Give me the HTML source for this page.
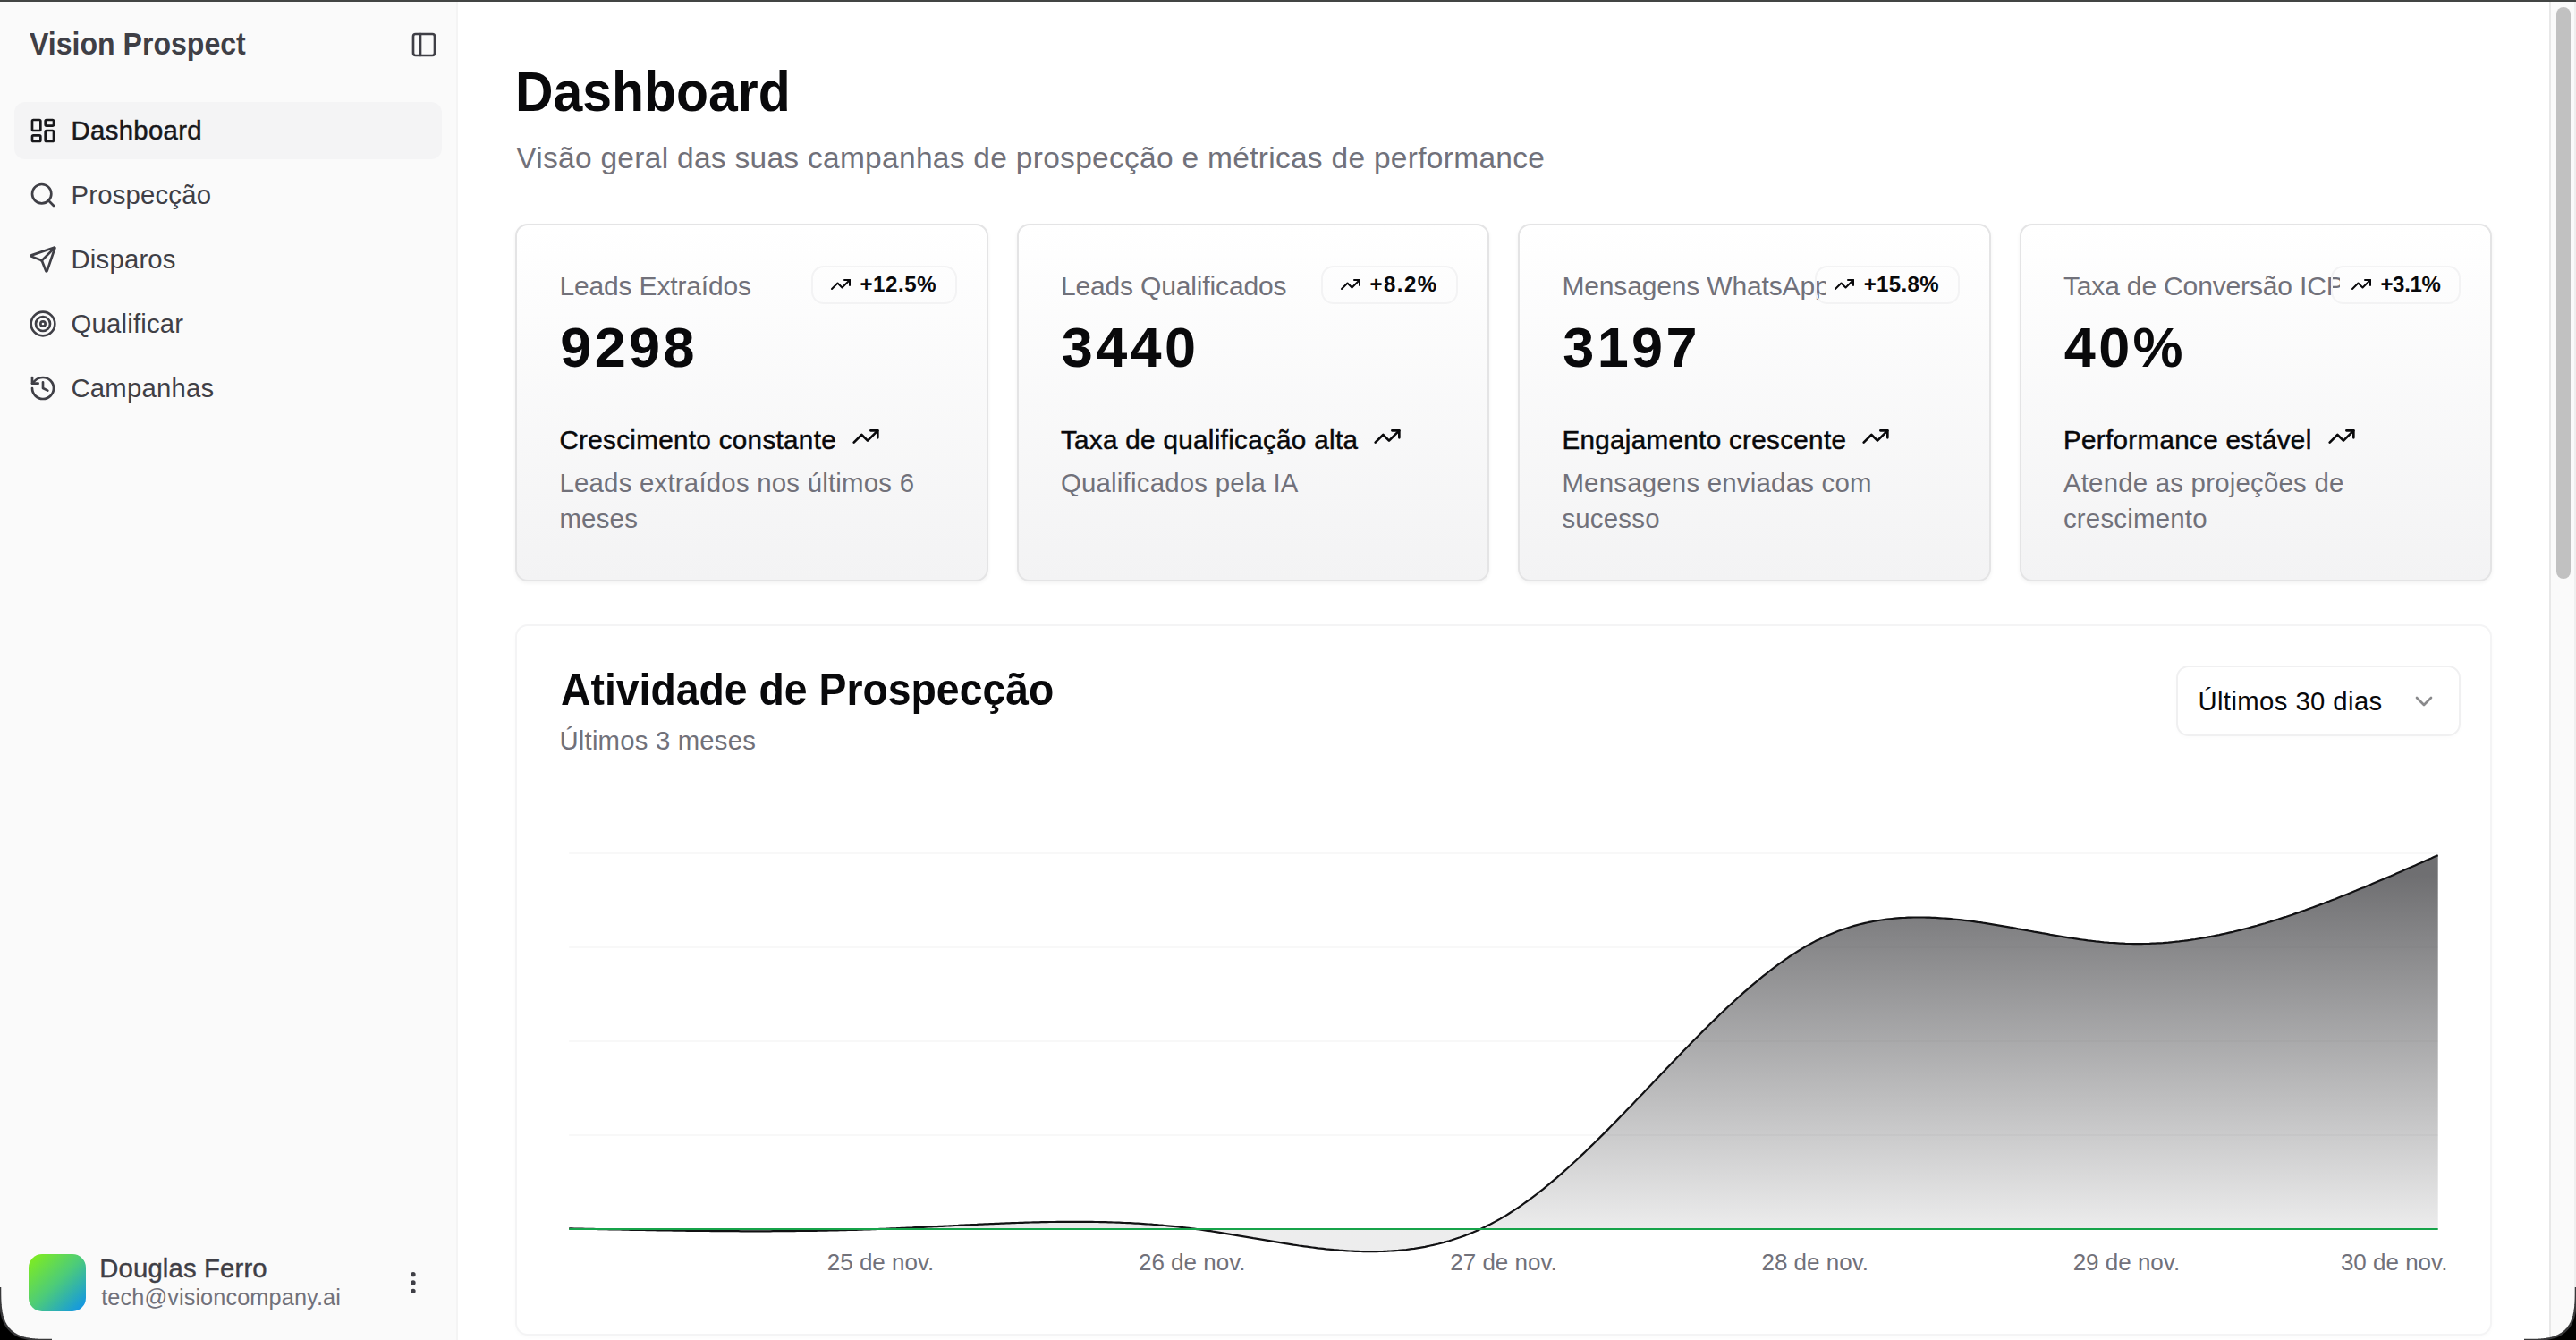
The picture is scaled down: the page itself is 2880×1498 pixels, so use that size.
<!DOCTYPE html>
<html><head><meta charset="utf-8"><title>Vision Prospect</title>
<style>
html,body{margin:0;padding:0;width:2880px;height:1498px;overflow:hidden;background:#000;}
#win{position:absolute;left:0;top:0;width:2880px;height:1498px;background:#fff;overflow:hidden;font-family:"Liberation Sans", sans-serif;}
.t{position:absolute;white-space:nowrap;}
.ic{position:absolute;overflow:visible;}
.box{position:absolute;box-sizing:border-box;}
@media (max-width:2000px){html{zoom:0.5;}}
</style></head><body>
<div id="win">
<div class="box" style="left:0;top:0;width:512px;height:1498px;background:#fafafa;border-right:2px solid #f4f4f4;"></div>
<div class="t" style="left:33.0px;top:32.1px;font-size:34.3px;line-height:34.3px;color:#3f3f46;font-weight:700;transform:scaleX(0.9350);transform-origin:0 0;">Vision Prospect</div>
<svg class="ic" style="left:458.3px;top:34.2px;width:32px;height:32px;" viewBox="0 0 24 24" fill="none" stroke="#3f3f46" stroke-width="2" stroke-linecap="round" stroke-linejoin="round"><rect width="18" height="18" x="3" y="3" rx="2"/><path d="M9 3v18"/></svg>
<div class="box" style="left:16px;top:114px;width:478px;height:64px;background:#f4f4f5;border-radius:12px;"></div>
<svg class="ic" style="left:32.0px;top:130.0px;width:32px;height:32px;" viewBox="0 0 24 24" fill="none" stroke="#18181b" stroke-width="2" stroke-linecap="round" stroke-linejoin="round"><rect width="7" height="9" x="3" y="3" rx="1"/><rect width="7" height="5" x="14" y="3" rx="1"/><rect width="7" height="9" x="14" y="12" rx="1"/><rect width="7" height="5" x="3" y="16" rx="1"/></svg>
<div class="t" style="left:79.5px;top:131.3px;font-size:29.3px;line-height:29.3px;color:#18181b;font-weight:400;letter-spacing:0.35px;-webkit-text-stroke:0.5px #18181b;">Dashboard</div>
<svg class="ic" style="left:32.0px;top:202.0px;width:32px;height:32px;" viewBox="0 0 24 24" fill="none" stroke="#3f3f46" stroke-width="2" stroke-linecap="round" stroke-linejoin="round"><circle cx="11" cy="11" r="8"/><path d="m21 21-4.3-4.3"/></svg>
<div class="t" style="left:79.5px;top:203.3px;font-size:29.3px;line-height:29.3px;color:#3f3f46;font-weight:400;letter-spacing:0.2px;">Prospecção</div>
<svg class="ic" style="left:32.0px;top:274.0px;width:32px;height:32px;" viewBox="0 0 24 24" fill="none" stroke="#3f3f46" stroke-width="2" stroke-linecap="round" stroke-linejoin="round"><path d="M14.536 21.686a.5.5 0 0 0 .937-.024l6.5-19a.496.496 0 0 0-.635-.635l-19 6.5a.5.5 0 0 0-.024.937l7.93 3.18a2 2 0 0 1 1.112 1.11z"/><path d="m21.854 2.147-10.94 10.939"/></svg>
<div class="t" style="left:79.5px;top:275.3px;font-size:29.3px;line-height:29.3px;color:#3f3f46;font-weight:400;letter-spacing:0.2px;">Disparos</div>
<svg class="ic" style="left:32.0px;top:346.0px;width:32px;height:32px;" viewBox="0 0 24 24" fill="none" stroke="#3f3f46" stroke-width="2" stroke-linecap="round" stroke-linejoin="round"><circle cx="12" cy="12" r="10"/><circle cx="12" cy="12" r="6"/><circle cx="12" cy="12" r="2"/></svg>
<div class="t" style="left:79.5px;top:347.3px;font-size:29.3px;line-height:29.3px;color:#3f3f46;font-weight:400;letter-spacing:0.2px;">Qualificar</div>
<svg class="ic" style="left:32.0px;top:418.0px;width:32px;height:32px;" viewBox="0 0 24 24" fill="none" stroke="#3f3f46" stroke-width="2" stroke-linecap="round" stroke-linejoin="round"><path d="M3 12a9 9 0 1 0 9-9 9.75 9.75 0 0 0-6.74 2.74L3 8"/><path d="M3 3v5h5"/><path d="M12 7v5l4 2"/></svg>
<div class="t" style="left:79.5px;top:419.3px;font-size:29.3px;line-height:29.3px;color:#3f3f46;font-weight:400;letter-spacing:0.2px;">Campanhas</div>
<div class="box" style="left:32px;top:1402px;width:64px;height:64px;border-radius:15px;background:linear-gradient(135deg,#84f016 0%,#4ccb7a 50%,#0b8ff2 100%);"></div>
<div class="t" style="left:111.2px;top:1403.0px;font-size:29.3px;line-height:29.3px;color:#3f3f46;font-weight:400;letter-spacing:0.15px;-webkit-text-stroke:0.4px #3f3f46;">Douglas Ferro</div>
<div class="t" style="left:113.2px;top:1438.1px;font-size:25.3px;line-height:25.3px;color:#71717a;font-weight:400;letter-spacing:0.1px;">tech@visioncompany.ai</div>
<svg class="ic" style="left:446.0px;top:1418.3px;width:32px;height:32px;" viewBox="0 0 24 24" fill="none" stroke="#3f3f46" stroke-width="2" stroke-linecap="round" stroke-linejoin="round"><circle cx="12" cy="12" r="1"/><circle cx="12" cy="5" r="1"/><circle cx="12" cy="19" r="1"/></svg>
<div class="t" style="left:576.0px;top:70.5px;font-size:63.5px;line-height:63.5px;color:#09090b;font-weight:700;transform:scaleX(0.9280);transform-origin:0 0;">Dashboard</div>
<div class="t" style="left:577.2px;top:160.3px;font-size:33.5px;line-height:33.5px;color:#71717a;font-weight:400;letter-spacing:0.29px;">Visão geral das suas campanhas de prospecção e métricas de performance</div>
<div class="box" style="left:576.0px;top:250px;width:528.5px;height:400px;border:2px solid #e4e4e5;border-radius:14px;background:linear-gradient(to top,#f3f3f4,#ffffff);box-shadow:0 2px 4px rgba(0,0,0,0.05);"></div>
<div class="t" style="left:625.4px;top:304.9px;font-size:30px;line-height:30px;color:#71717a;font-weight:400;letter-spacing:-0.15px;overflow:hidden;width:293.1px;">Leads Extraídos</div>
<div class="box" style="right:1810.5px;top:296.5px;height:43px;padding:0 20.4px 0 19.5px;border:2px solid #f3f3f4;border-radius:14px;background:transparent;display:flex;align-items:center;gap:9.4px;"><svg style="width:24px;height:24px;flex:none" viewBox="0 0 24 24" fill="none" stroke="#09090b" stroke-width="2" stroke-linecap="round" stroke-linejoin="round"><path d="M16 7h6v6"/><path d="m22 7-8.5 8.5-5-5L2 17"/></svg><span style="font-size:24px;line-height:24px;font-weight:700;color:#09090b;letter-spacing:0.6px;">+12.5%</span></div>
<div class="t" style="left:626.2px;top:356.5px;font-size:63px;line-height:63px;color:#09090b;font-weight:700;letter-spacing:3.4px;">9298</div>
<div class="t" style="left:625.4px;top:476.6px;font-size:29.6px;line-height:29.6px;color:#09090b;letter-spacing:0.33px;-webkit-text-stroke:0.5px #09090b;display:flex;align-items:center;">Crescimento constante<svg style="width:32px;height:32px;margin-left:17px;margin-top:-6px;flex:none" viewBox="0 0 24 24" fill="none" stroke="#09090b" stroke-width="2" stroke-linecap="round" stroke-linejoin="round"><path d="M16 7h6v6"/><path d="m22 7-8.5 8.5-5-5L2 17"/></svg></div>
<div class="t" style="left:625.4px;top:525.3px;font-size:29.4px;line-height:29.4px;color:#71717a;font-weight:400;letter-spacing:0.22px;">Leads extraídos nos últimos 6</div>
<div class="t" style="left:625.4px;top:564.5px;font-size:29.4px;line-height:29.4px;color:#71717a;font-weight:400;letter-spacing:0.22px;">meses</div>
<div class="box" style="left:1136.5px;top:250px;width:528.5px;height:400px;border:2px solid #e4e4e5;border-radius:14px;background:linear-gradient(to top,#f3f3f4,#ffffff);box-shadow:0 2px 4px rgba(0,0,0,0.05);"></div>
<div class="t" style="left:1185.9px;top:304.9px;font-size:30px;line-height:30px;color:#71717a;font-weight:400;letter-spacing:-0.15px;overflow:hidden;width:301.6px;">Leads Qualificados</div>
<div class="box" style="right:1250.0px;top:296.5px;height:43px;padding:0 20.4px 0 19.5px;border:2px solid #f3f3f4;border-radius:14px;background:transparent;display:flex;align-items:center;gap:9.4px;"><svg style="width:24px;height:24px;flex:none" viewBox="0 0 24 24" fill="none" stroke="#09090b" stroke-width="2" stroke-linecap="round" stroke-linejoin="round"><path d="M16 7h6v6"/><path d="m22 7-8.5 8.5-5-5L2 17"/></svg><span style="font-size:24px;line-height:24px;font-weight:700;color:#09090b;letter-spacing:1.5px;">+8.2%</span></div>
<div class="t" style="left:1186.7px;top:356.5px;font-size:63px;line-height:63px;color:#09090b;font-weight:700;letter-spacing:3.4px;">3440</div>
<div class="t" style="left:1185.9px;top:476.6px;font-size:29.6px;line-height:29.6px;color:#09090b;letter-spacing:0.33px;-webkit-text-stroke:0.5px #09090b;display:flex;align-items:center;">Taxa de qualificação alta<svg style="width:32px;height:32px;margin-left:17px;margin-top:-6px;flex:none" viewBox="0 0 24 24" fill="none" stroke="#09090b" stroke-width="2" stroke-linecap="round" stroke-linejoin="round"><path d="M16 7h6v6"/><path d="m22 7-8.5 8.5-5-5L2 17"/></svg></div>
<div class="t" style="left:1185.9px;top:525.3px;font-size:29.4px;line-height:29.4px;color:#71717a;font-weight:400;letter-spacing:0.22px;">Qualificados pela IA</div>
<div class="box" style="left:1697.0px;top:250px;width:528.5px;height:400px;border:2px solid #e4e4e5;border-radius:14px;background:linear-gradient(to top,#f3f3f4,#ffffff);box-shadow:0 2px 4px rgba(0,0,0,0.05);"></div>
<div class="t" style="left:1746.4px;top:304.9px;font-size:30px;line-height:30px;color:#71717a;font-weight:400;letter-spacing:-0.15px;overflow:hidden;width:294.2px;">Mensagens WhatsApp</div>
<div class="box" style="right:689.5px;top:296.5px;height:43px;padding:0 20.4px 0 19.5px;border:2px solid #f3f3f4;border-radius:14px;background:transparent;display:flex;align-items:center;gap:9.4px;"><svg style="width:24px;height:24px;flex:none" viewBox="0 0 24 24" fill="none" stroke="#09090b" stroke-width="2" stroke-linecap="round" stroke-linejoin="round"><path d="M16 7h6v6"/><path d="m22 7-8.5 8.5-5-5L2 17"/></svg><span style="font-size:24px;line-height:24px;font-weight:700;color:#09090b;letter-spacing:0.4px;">+15.8%</span></div>
<div class="t" style="left:1747.2px;top:356.5px;font-size:63px;line-height:63px;color:#09090b;font-weight:700;letter-spacing:3.4px;">3197</div>
<div class="t" style="left:1746.4px;top:476.6px;font-size:29.6px;line-height:29.6px;color:#09090b;letter-spacing:0.33px;-webkit-text-stroke:0.5px #09090b;display:flex;align-items:center;">Engajamento crescente<svg style="width:32px;height:32px;margin-left:17px;margin-top:-6px;flex:none" viewBox="0 0 24 24" fill="none" stroke="#09090b" stroke-width="2" stroke-linecap="round" stroke-linejoin="round"><path d="M16 7h6v6"/><path d="m22 7-8.5 8.5-5-5L2 17"/></svg></div>
<div class="t" style="left:1746.4px;top:525.3px;font-size:29.4px;line-height:29.4px;color:#71717a;font-weight:400;letter-spacing:0.22px;">Mensagens enviadas com</div>
<div class="t" style="left:1746.4px;top:564.5px;font-size:29.4px;line-height:29.4px;color:#71717a;font-weight:400;letter-spacing:0.22px;">sucesso</div>
<div class="box" style="left:2257.5px;top:250px;width:528.5px;height:400px;border:2px solid #e4e4e5;border-radius:14px;background:linear-gradient(to top,#f3f3f4,#ffffff);box-shadow:0 2px 4px rgba(0,0,0,0.05);"></div>
<div class="t" style="left:2306.9px;top:304.9px;font-size:30px;line-height:30px;color:#71717a;font-weight:400;letter-spacing:-0.15px;overflow:hidden;width:309.1px;">Taxa de Conversão ICP</div>
<div class="box" style="right:129.0px;top:296.5px;height:43px;padding:0 20.4px 0 19.5px;border:2px solid #f3f3f4;border-radius:14px;background:transparent;display:flex;align-items:center;gap:9.4px;"><svg style="width:24px;height:24px;flex:none" viewBox="0 0 24 24" fill="none" stroke="#09090b" stroke-width="2" stroke-linecap="round" stroke-linejoin="round"><path d="M16 7h6v6"/><path d="m22 7-8.5 8.5-5-5L2 17"/></svg><span style="font-size:24px;line-height:24px;font-weight:700;color:#09090b;letter-spacing:-0.3px;">+3.1%</span></div>
<div class="t" style="left:2307.7px;top:356.5px;font-size:63px;line-height:63px;color:#09090b;font-weight:700;letter-spacing:3.4px;">40%</div>
<div class="t" style="left:2306.9px;top:476.6px;font-size:29.6px;line-height:29.6px;color:#09090b;letter-spacing:0.33px;-webkit-text-stroke:0.5px #09090b;display:flex;align-items:center;">Performance estável<svg style="width:32px;height:32px;margin-left:17px;margin-top:-6px;flex:none" viewBox="0 0 24 24" fill="none" stroke="#09090b" stroke-width="2" stroke-linecap="round" stroke-linejoin="round"><path d="M16 7h6v6"/><path d="m22 7-8.5 8.5-5-5L2 17"/></svg></div>
<div class="t" style="left:2306.9px;top:525.3px;font-size:29.4px;line-height:29.4px;color:#71717a;font-weight:400;letter-spacing:0.22px;">Atende as projeções de</div>
<div class="t" style="left:2306.9px;top:564.5px;font-size:29.4px;line-height:29.4px;color:#71717a;font-weight:400;letter-spacing:0.22px;">crescimento</div>
<div class="box" style="left:575.5px;top:698px;width:2210.5px;height:795px;border:2px solid #f4f4f5;border-radius:14px;background:#fff;box-shadow:0 2px 4px rgba(0,0,0,0.02);"></div>
<div class="t" style="left:626.5px;top:746.3px;font-size:50.7px;line-height:50.7px;color:#09090b;font-weight:700;transform:scaleX(0.9145);transform-origin:0 0;">Atividade de Prospecção</div>
<div class="t" style="left:625.5px;top:812.6px;font-size:29.3px;line-height:29.3px;color:#71717a;font-weight:400;letter-spacing:0.2px;">Últimos 3 meses</div>
<div class="box" style="left:2433px;top:744px;width:318px;height:79px;border:2px solid #f0f0f1;border-radius:14px;background:#fff;box-shadow:0 2px 4px rgba(0,0,0,0.015);"></div>
<div class="t" style="left:2457.4px;top:769.4px;font-size:29.3px;line-height:29.3px;color:#09090b;font-weight:400;letter-spacing:0.4px;">Últimos 30 dias</div>
<svg class="ic" style="left:2693.7px;top:768.3px;width:32px;height:32px;" viewBox="0 0 24 24" fill="none" stroke="#8a8a8c" stroke-width="2" stroke-linecap="round" stroke-linejoin="round"><path d="m6 9 6 6 6-6"/></svg>
<svg style="position:absolute;left:0;top:0;width:2880px;height:1498px" viewBox="0 0 2880 1498">
<defs><linearGradient id="fillG" x1="0" y1="956.2" x2="0" y2="1399.2" gradientUnits="userSpaceOnUse">
<stop offset="0.05" stop-color="#4b4b4e" stop-opacity="0.8"/><stop offset="0.95" stop-color="#4b4b4e" stop-opacity="0.1"/></linearGradient></defs>
<line x1="636.2" x2="2725.7" y1="954" y2="954" stroke="#f8f8f8" stroke-width="2"/><line x1="636.2" x2="2725.7" y1="1059" y2="1059" stroke="#f8f8f8" stroke-width="2"/><line x1="636.2" x2="2725.7" y1="1164" y2="1164" stroke="#f8f8f8" stroke-width="2"/><line x1="636.2" x2="2725.7" y1="1269" y2="1269" stroke="#f8f8f8" stroke-width="2"/>
<path d="M636.2,1373.4 L639.2,1373.4 L642.2,1373.5 L645.2,1373.6 L648.2,1373.6 L651.2,1373.7 L654.2,1373.8 L657.2,1373.8 L660.2,1373.9 L663.2,1373.9 L666.2,1374.0 L669.2,1374.1 L672.2,1374.1 L675.2,1374.2 L678.2,1374.2 L681.2,1374.3 L684.2,1374.4 L687.2,1374.4 L690.2,1374.5 L693.2,1374.5 L696.2,1374.6 L699.2,1374.7 L702.2,1374.7 L705.2,1374.8 L708.2,1374.8 L711.2,1374.9 L714.2,1374.9 L717.2,1375.0 L720.2,1375.0 L723.2,1375.1 L726.2,1375.1 L729.2,1375.2 L732.2,1375.2 L735.2,1375.3 L738.2,1375.3 L741.2,1375.4 L744.2,1375.4 L747.2,1375.5 L750.2,1375.5 L753.2,1375.6 L756.2,1375.6 L759.2,1375.7 L762.2,1375.7 L765.2,1375.7 L768.2,1375.8 L771.2,1375.8 L774.2,1375.8 L777.2,1375.9 L780.2,1375.9 L783.2,1375.9 L786.2,1376.0 L789.2,1376.0 L792.2,1376.0 L795.2,1376.1 L798.2,1376.1 L801.2,1376.1 L804.2,1376.1 L807.2,1376.2 L810.2,1376.2 L813.2,1376.2 L816.2,1376.2 L819.2,1376.2 L822.2,1376.2 L825.2,1376.2 L828.2,1376.3 L831.2,1376.3 L834.2,1376.3 L837.2,1376.3 L840.2,1376.3 L843.2,1376.3 L846.2,1376.3 L849.2,1376.3 L852.2,1376.3 L855.2,1376.3 L858.2,1376.3 L861.2,1376.3 L864.2,1376.2 L867.2,1376.2 L870.2,1376.2 L873.2,1376.2 L876.2,1376.2 L879.2,1376.2 L882.2,1376.1 L885.2,1376.1 L888.2,1376.1 L891.2,1376.0 L894.2,1376.0 L897.2,1376.0 L900.2,1375.9 L903.2,1375.9 L906.2,1375.9 L909.2,1375.8 L912.2,1375.8 L915.2,1375.7 L918.2,1375.7 L921.2,1375.6 L924.2,1375.6 L927.2,1375.5 L930.2,1375.4 L933.2,1375.4 L936.2,1375.3 L939.2,1375.2 L942.2,1375.2 L945.2,1375.1 L948.2,1375.0 L951.2,1374.9 L954.2,1374.9 L957.2,1374.8 L960.2,1374.7 L963.2,1374.6 L966.2,1374.5 L969.2,1374.4 L972.2,1374.3 L975.2,1374.2 L978.2,1374.1 L981.2,1374.0 L984.2,1373.9 L987.2,1373.8 L990.2,1373.7 L993.2,1373.5 L996.2,1373.4 L999.2,1373.3 L1002.2,1373.2 L1005.2,1373.0 L1008.2,1372.9 L1011.2,1372.8 L1014.2,1372.6 L1017.2,1372.5 L1020.2,1372.4 L1023.2,1372.2 L1026.2,1372.1 L1029.2,1371.9 L1032.2,1371.8 L1035.2,1371.6 L1038.2,1371.5 L1041.2,1371.3 L1044.2,1371.2 L1047.2,1371.1 L1050.2,1370.9 L1053.2,1370.8 L1056.2,1370.6 L1059.2,1370.5 L1062.2,1370.3 L1065.2,1370.2 L1068.2,1370.0 L1071.2,1369.9 L1074.2,1369.7 L1077.2,1369.6 L1080.2,1369.4 L1083.2,1369.3 L1086.2,1369.1 L1089.2,1369.0 L1092.2,1368.9 L1095.2,1368.7 L1098.2,1368.6 L1101.2,1368.4 L1104.2,1368.3 L1107.2,1368.2 L1110.2,1368.1 L1113.2,1367.9 L1116.2,1367.8 L1119.2,1367.7 L1122.2,1367.6 L1125.2,1367.4 L1128.2,1367.3 L1131.2,1367.2 L1134.2,1367.1 L1137.2,1367.0 L1140.2,1366.9 L1143.2,1366.8 L1146.2,1366.7 L1149.2,1366.6 L1152.2,1366.5 L1155.2,1366.4 L1158.2,1366.4 L1161.2,1366.3 L1164.2,1366.2 L1167.2,1366.2 L1170.2,1366.1 L1173.2,1366.0 L1176.2,1366.0 L1179.2,1366.0 L1182.2,1365.9 L1185.2,1365.9 L1188.2,1365.8 L1191.2,1365.8 L1194.2,1365.8 L1197.2,1365.8 L1200.2,1365.8 L1203.2,1365.8 L1206.2,1365.8 L1209.2,1365.8 L1212.2,1365.8 L1215.2,1365.8 L1218.2,1365.9 L1221.2,1365.9 L1224.2,1366.0 L1227.2,1366.0 L1230.2,1366.1 L1233.2,1366.1 L1236.2,1366.2 L1239.2,1366.3 L1242.2,1366.4 L1245.2,1366.5 L1248.2,1366.6 L1251.2,1366.7 L1254.2,1366.8 L1257.2,1367.0 L1260.2,1367.1 L1263.2,1367.2 L1266.2,1367.4 L1269.2,1367.6 L1272.2,1367.7 L1275.2,1367.9 L1278.2,1368.1 L1281.2,1368.3 L1284.2,1368.5 L1287.2,1368.7 L1290.2,1369.0 L1293.2,1369.2 L1296.2,1369.5 L1299.2,1369.7 L1302.2,1370.0 L1305.2,1370.3 L1308.2,1370.6 L1311.2,1370.9 L1314.2,1371.2 L1317.2,1371.5 L1320.2,1371.8 L1323.2,1372.2 L1326.2,1372.5 L1329.2,1372.9 L1332.2,1373.3 L1335.2,1373.7 L1338.2,1374.1 L1341.2,1374.5 L1344.2,1374.9 L1347.2,1375.3 L1350.2,1375.8 L1353.2,1376.2 L1356.2,1376.7 L1359.2,1377.1 L1362.2,1377.6 L1365.2,1378.1 L1368.2,1378.6 L1371.2,1379.1 L1374.2,1379.6 L1377.2,1380.1 L1380.2,1380.6 L1383.2,1381.1 L1386.2,1381.6 L1389.2,1382.1 L1392.2,1382.6 L1395.2,1383.1 L1398.2,1383.6 L1401.2,1384.2 L1404.2,1384.7 L1407.2,1385.2 L1410.2,1385.7 L1413.2,1386.2 L1416.2,1386.7 L1419.2,1387.2 L1422.2,1387.7 L1425.2,1388.2 L1428.2,1388.7 L1431.2,1389.2 L1434.2,1389.7 L1437.2,1390.2 L1440.2,1390.6 L1443.2,1391.1 L1446.2,1391.6 L1449.2,1392.0 L1452.2,1392.5 L1455.2,1392.9 L1458.2,1393.3 L1461.2,1393.7 L1464.2,1394.1 L1467.2,1394.5 L1470.2,1394.9 L1473.2,1395.3 L1476.2,1395.6 L1479.2,1395.9 L1482.2,1396.3 L1485.2,1396.6 L1488.2,1396.9 L1491.2,1397.2 L1494.2,1397.4 L1497.2,1397.7 L1500.2,1397.9 L1503.2,1398.1 L1506.2,1398.3 L1509.2,1398.5 L1512.2,1398.6 L1515.2,1398.8 L1518.2,1398.9 L1521.2,1399.0 L1524.2,1399.1 L1527.2,1399.1 L1530.2,1399.1 L1533.2,1399.2 L1536.2,1399.1 L1539.2,1399.1 L1542.2,1399.0 L1545.2,1399.0 L1548.2,1398.8 L1551.2,1398.7 L1554.2,1398.5 L1557.2,1398.3 L1560.2,1398.1 L1563.2,1397.9 L1566.2,1397.6 L1569.2,1397.3 L1572.2,1397.0 L1575.2,1396.6 L1578.2,1396.2 L1581.2,1395.8 L1584.2,1395.3 L1587.2,1394.8 L1590.2,1394.3 L1593.2,1393.8 L1596.2,1393.2 L1599.2,1392.5 L1602.2,1391.9 L1605.2,1391.2 L1608.2,1390.5 L1611.2,1389.7 L1614.2,1388.9 L1617.2,1388.0 L1620.2,1387.2 L1623.2,1386.3 L1626.2,1385.3 L1629.2,1384.3 L1632.2,1383.3 L1635.2,1382.2 L1638.2,1381.1 L1641.2,1379.9 L1644.2,1378.7 L1647.2,1377.5 L1650.2,1376.2 L1653.2,1374.9 L1656.2,1373.5 L1659.2,1372.1 L1662.2,1370.6 L1665.2,1369.1 L1668.2,1367.5 L1671.2,1365.9 L1674.2,1364.3 L1677.2,1362.6 L1680.2,1360.8 L1683.2,1359.1 L1686.2,1357.2 L1689.2,1355.3 L1692.2,1353.4 L1695.2,1351.4 L1698.2,1349.4 L1701.2,1347.3 L1704.2,1345.2 L1707.2,1343.0 L1710.2,1340.8 L1713.2,1338.6 L1716.2,1336.3 L1719.2,1334.0 L1722.2,1331.6 L1725.2,1329.3 L1728.2,1326.8 L1731.2,1324.4 L1734.2,1321.9 L1737.2,1319.3 L1740.2,1316.8 L1743.2,1314.2 L1746.2,1311.6 L1749.2,1308.9 L1752.2,1306.2 L1755.2,1303.5 L1758.2,1300.8 L1761.2,1298.0 L1764.2,1295.2 L1767.2,1292.4 L1770.2,1289.6 L1773.2,1286.7 L1776.2,1283.8 L1779.2,1280.9 L1782.2,1278.0 L1785.2,1275.0 L1788.2,1272.1 L1791.2,1269.1 L1794.2,1266.1 L1797.2,1263.1 L1800.2,1260.0 L1803.2,1257.0 L1806.2,1253.9 L1809.2,1250.9 L1812.2,1247.8 L1815.2,1244.7 L1818.2,1241.6 L1821.2,1238.5 L1824.2,1235.4 L1827.2,1232.3 L1830.2,1229.1 L1833.2,1226.0 L1836.2,1222.9 L1839.2,1219.7 L1842.2,1216.6 L1845.2,1213.4 L1848.2,1210.3 L1851.2,1207.1 L1854.2,1204.0 L1857.2,1200.8 L1860.2,1197.7 L1863.2,1194.5 L1866.2,1191.4 L1869.2,1188.3 L1872.2,1185.2 L1875.2,1182.0 L1878.2,1178.9 L1881.2,1175.8 L1884.2,1172.7 L1887.2,1169.7 L1890.2,1166.6 L1893.2,1163.5 L1896.2,1160.5 L1899.2,1157.5 L1902.2,1154.4 L1905.2,1151.4 L1908.2,1148.5 L1911.2,1145.5 L1914.2,1142.5 L1917.2,1139.6 L1920.2,1136.7 L1923.2,1133.8 L1926.2,1131.0 L1929.2,1128.1 L1932.2,1125.3 L1935.2,1122.5 L1938.2,1119.7 L1941.2,1117.0 L1944.2,1114.3 L1947.2,1111.6 L1950.2,1108.9 L1953.2,1106.3 L1956.2,1103.7 L1959.2,1101.1 L1962.2,1098.6 L1965.2,1096.1 L1968.2,1093.7 L1971.2,1091.2 L1974.2,1088.8 L1977.2,1086.5 L1980.2,1084.2 L1983.2,1081.9 L1986.2,1079.6 L1989.2,1077.4 L1992.2,1075.3 L1995.2,1073.1 L1998.2,1071.1 L2001.2,1069.0 L2004.2,1067.1 L2007.2,1065.1 L2010.2,1063.2 L2013.2,1061.4 L2016.2,1059.6 L2019.2,1057.8 L2022.2,1056.1 L2025.2,1054.5 L2028.2,1052.9 L2031.2,1051.3 L2034.2,1049.9 L2037.2,1048.4 L2040.2,1047.0 L2043.2,1045.7 L2046.2,1044.4 L2049.2,1043.2 L2052.2,1042.0 L2055.2,1040.8 L2058.2,1039.7 L2061.2,1038.7 L2064.2,1037.7 L2067.2,1036.7 L2070.2,1035.8 L2073.2,1034.9 L2076.2,1034.1 L2079.2,1033.3 L2082.2,1032.6 L2085.2,1031.9 L2088.2,1031.2 L2091.2,1030.6 L2094.2,1030.0 L2097.2,1029.5 L2100.2,1029.0 L2103.2,1028.5 L2106.2,1028.1 L2109.2,1027.7 L2112.2,1027.3 L2115.2,1027.0 L2118.2,1026.7 L2121.2,1026.4 L2124.2,1026.2 L2127.2,1026.0 L2130.2,1025.9 L2133.2,1025.7 L2136.2,1025.6 L2139.2,1025.5 L2142.2,1025.5 L2145.2,1025.5 L2148.2,1025.5 L2151.2,1025.5 L2154.2,1025.6 L2157.2,1025.7 L2160.2,1025.8 L2163.2,1025.9 L2166.2,1026.1 L2169.2,1026.3 L2172.2,1026.5 L2175.2,1026.7 L2178.2,1026.9 L2181.2,1027.2 L2184.2,1027.5 L2187.2,1027.8 L2190.2,1028.1 L2193.2,1028.4 L2196.2,1028.8 L2199.2,1029.2 L2202.2,1029.5 L2205.2,1029.9 L2208.2,1030.3 L2211.2,1030.8 L2214.2,1031.2 L2217.2,1031.7 L2220.2,1032.1 L2223.2,1032.6 L2226.2,1033.1 L2229.2,1033.6 L2232.2,1034.1 L2235.2,1034.6 L2238.2,1035.1 L2241.2,1035.6 L2244.2,1036.1 L2247.2,1036.7 L2250.2,1037.2 L2253.2,1037.7 L2256.2,1038.3 L2259.2,1038.8 L2262.2,1039.4 L2265.2,1039.9 L2268.2,1040.5 L2271.2,1041.0 L2274.2,1041.6 L2277.2,1042.1 L2280.2,1042.6 L2283.2,1043.2 L2286.2,1043.7 L2289.2,1044.2 L2292.2,1044.8 L2295.2,1045.3 L2298.2,1045.8 L2301.2,1046.3 L2304.2,1046.8 L2307.2,1047.3 L2310.2,1047.8 L2313.2,1048.3 L2316.2,1048.7 L2319.2,1049.2 L2322.2,1049.6 L2325.2,1050.1 L2328.2,1050.5 L2331.2,1050.9 L2334.2,1051.3 L2337.2,1051.6 L2340.2,1052.0 L2343.2,1052.4 L2346.2,1052.7 L2349.2,1053.0 L2352.2,1053.3 L2355.2,1053.5 L2358.2,1053.8 L2361.2,1054.0 L2364.2,1054.2 L2367.2,1054.4 L2370.2,1054.6 L2373.2,1054.7 L2376.2,1054.9 L2379.2,1055.0 L2382.2,1055.0 L2385.2,1055.1 L2388.2,1055.1 L2391.2,1055.1 L2394.2,1055.1 L2397.2,1055.0 L2400.2,1055.0 L2403.2,1054.9 L2406.2,1054.7 L2409.2,1054.6 L2412.2,1054.4 L2415.2,1054.3 L2418.2,1054.1 L2421.2,1053.8 L2424.2,1053.6 L2427.2,1053.3 L2430.2,1053.0 L2433.2,1052.7 L2436.2,1052.4 L2439.2,1052.0 L2442.2,1051.7 L2445.2,1051.3 L2448.2,1050.9 L2451.2,1050.4 L2454.2,1050.0 L2457.2,1049.5 L2460.2,1049.0 L2463.2,1048.5 L2466.2,1048.0 L2469.2,1047.4 L2472.2,1046.9 L2475.2,1046.3 L2478.2,1045.7 L2481.2,1045.1 L2484.2,1044.4 L2487.2,1043.8 L2490.2,1043.1 L2493.2,1042.4 L2496.2,1041.8 L2499.2,1041.0 L2502.2,1040.3 L2505.2,1039.6 L2508.2,1038.8 L2511.2,1038.0 L2514.2,1037.2 L2517.2,1036.4 L2520.2,1035.6 L2523.2,1034.8 L2526.2,1033.9 L2529.2,1033.0 L2532.2,1032.2 L2535.2,1031.3 L2538.2,1030.4 L2541.2,1029.4 L2544.2,1028.5 L2547.2,1027.6 L2550.2,1026.6 L2553.2,1025.6 L2556.2,1024.7 L2559.2,1023.7 L2562.2,1022.7 L2565.2,1021.6 L2568.2,1020.6 L2571.2,1019.6 L2574.2,1018.5 L2577.2,1017.5 L2580.2,1016.4 L2583.2,1015.3 L2586.2,1014.2 L2589.2,1013.1 L2592.2,1012.0 L2595.2,1010.9 L2598.2,1009.8 L2601.2,1008.6 L2604.2,1007.5 L2607.2,1006.3 L2610.2,1005.2 L2613.2,1004.0 L2616.2,1002.8 L2619.2,1001.6 L2622.2,1000.4 L2625.2,999.2 L2628.2,998.0 L2631.2,996.8 L2634.2,995.6 L2637.2,994.3 L2640.2,993.1 L2643.2,991.9 L2646.2,990.6 L2649.2,989.4 L2652.2,988.1 L2655.2,986.8 L2658.2,985.6 L2661.2,984.3 L2664.2,983.0 L2667.2,981.7 L2670.2,980.4 L2673.2,979.2 L2676.2,977.9 L2679.2,976.6 L2682.2,975.3 L2685.2,974.0 L2688.2,972.6 L2691.2,971.3 L2694.2,970.0 L2697.2,968.7 L2700.2,967.4 L2703.2,966.1 L2706.2,964.8 L2709.2,963.4 L2712.2,962.1 L2715.2,960.8 L2718.2,959.5 L2721.2,958.1 L2724.2,956.8 L2725.7,956.2 L2725.7,1374 L636.2,1374 Z" fill="url(#fillG)" stroke="none"/>
<path d="M636.2,1373.4 L639.2,1373.4 L642.2,1373.5 L645.2,1373.6 L648.2,1373.6 L651.2,1373.7 L654.2,1373.8 L657.2,1373.8 L660.2,1373.9 L663.2,1373.9 L666.2,1374.0 L669.2,1374.1 L672.2,1374.1 L675.2,1374.2 L678.2,1374.2 L681.2,1374.3 L684.2,1374.4 L687.2,1374.4 L690.2,1374.5 L693.2,1374.5 L696.2,1374.6 L699.2,1374.7 L702.2,1374.7 L705.2,1374.8 L708.2,1374.8 L711.2,1374.9 L714.2,1374.9 L717.2,1375.0 L720.2,1375.0 L723.2,1375.1 L726.2,1375.1 L729.2,1375.2 L732.2,1375.2 L735.2,1375.3 L738.2,1375.3 L741.2,1375.4 L744.2,1375.4 L747.2,1375.5 L750.2,1375.5 L753.2,1375.6 L756.2,1375.6 L759.2,1375.7 L762.2,1375.7 L765.2,1375.7 L768.2,1375.8 L771.2,1375.8 L774.2,1375.8 L777.2,1375.9 L780.2,1375.9 L783.2,1375.9 L786.2,1376.0 L789.2,1376.0 L792.2,1376.0 L795.2,1376.1 L798.2,1376.1 L801.2,1376.1 L804.2,1376.1 L807.2,1376.2 L810.2,1376.2 L813.2,1376.2 L816.2,1376.2 L819.2,1376.2 L822.2,1376.2 L825.2,1376.2 L828.2,1376.3 L831.2,1376.3 L834.2,1376.3 L837.2,1376.3 L840.2,1376.3 L843.2,1376.3 L846.2,1376.3 L849.2,1376.3 L852.2,1376.3 L855.2,1376.3 L858.2,1376.3 L861.2,1376.3 L864.2,1376.2 L867.2,1376.2 L870.2,1376.2 L873.2,1376.2 L876.2,1376.2 L879.2,1376.2 L882.2,1376.1 L885.2,1376.1 L888.2,1376.1 L891.2,1376.0 L894.2,1376.0 L897.2,1376.0 L900.2,1375.9 L903.2,1375.9 L906.2,1375.9 L909.2,1375.8 L912.2,1375.8 L915.2,1375.7 L918.2,1375.7 L921.2,1375.6 L924.2,1375.6 L927.2,1375.5 L930.2,1375.4 L933.2,1375.4 L936.2,1375.3 L939.2,1375.2 L942.2,1375.2 L945.2,1375.1 L948.2,1375.0 L951.2,1374.9 L954.2,1374.9 L957.2,1374.8 L960.2,1374.7 L963.2,1374.6 L966.2,1374.5 L969.2,1374.4 L972.2,1374.3 L975.2,1374.2 L978.2,1374.1 L981.2,1374.0 L984.2,1373.9 L987.2,1373.8 L990.2,1373.7 L993.2,1373.5 L996.2,1373.4 L999.2,1373.3 L1002.2,1373.2 L1005.2,1373.0 L1008.2,1372.9 L1011.2,1372.8 L1014.2,1372.6 L1017.2,1372.5 L1020.2,1372.4 L1023.2,1372.2 L1026.2,1372.1 L1029.2,1371.9 L1032.2,1371.8 L1035.2,1371.6 L1038.2,1371.5 L1041.2,1371.3 L1044.2,1371.2 L1047.2,1371.1 L1050.2,1370.9 L1053.2,1370.8 L1056.2,1370.6 L1059.2,1370.5 L1062.2,1370.3 L1065.2,1370.2 L1068.2,1370.0 L1071.2,1369.9 L1074.2,1369.7 L1077.2,1369.6 L1080.2,1369.4 L1083.2,1369.3 L1086.2,1369.1 L1089.2,1369.0 L1092.2,1368.9 L1095.2,1368.7 L1098.2,1368.6 L1101.2,1368.4 L1104.2,1368.3 L1107.2,1368.2 L1110.2,1368.1 L1113.2,1367.9 L1116.2,1367.8 L1119.2,1367.7 L1122.2,1367.6 L1125.2,1367.4 L1128.2,1367.3 L1131.2,1367.2 L1134.2,1367.1 L1137.2,1367.0 L1140.2,1366.9 L1143.2,1366.8 L1146.2,1366.7 L1149.2,1366.6 L1152.2,1366.5 L1155.2,1366.4 L1158.2,1366.4 L1161.2,1366.3 L1164.2,1366.2 L1167.2,1366.2 L1170.2,1366.1 L1173.2,1366.0 L1176.2,1366.0 L1179.2,1366.0 L1182.2,1365.9 L1185.2,1365.9 L1188.2,1365.8 L1191.2,1365.8 L1194.2,1365.8 L1197.2,1365.8 L1200.2,1365.8 L1203.2,1365.8 L1206.2,1365.8 L1209.2,1365.8 L1212.2,1365.8 L1215.2,1365.8 L1218.2,1365.9 L1221.2,1365.9 L1224.2,1366.0 L1227.2,1366.0 L1230.2,1366.1 L1233.2,1366.1 L1236.2,1366.2 L1239.2,1366.3 L1242.2,1366.4 L1245.2,1366.5 L1248.2,1366.6 L1251.2,1366.7 L1254.2,1366.8 L1257.2,1367.0 L1260.2,1367.1 L1263.2,1367.2 L1266.2,1367.4 L1269.2,1367.6 L1272.2,1367.7 L1275.2,1367.9 L1278.2,1368.1 L1281.2,1368.3 L1284.2,1368.5 L1287.2,1368.7 L1290.2,1369.0 L1293.2,1369.2 L1296.2,1369.5 L1299.2,1369.7 L1302.2,1370.0 L1305.2,1370.3 L1308.2,1370.6 L1311.2,1370.9 L1314.2,1371.2 L1317.2,1371.5 L1320.2,1371.8 L1323.2,1372.2 L1326.2,1372.5 L1329.2,1372.9 L1332.2,1373.3 L1335.2,1373.7 L1338.2,1374.1 L1341.2,1374.5 L1344.2,1374.9 L1347.2,1375.3 L1350.2,1375.8 L1353.2,1376.2 L1356.2,1376.7 L1359.2,1377.1 L1362.2,1377.6 L1365.2,1378.1 L1368.2,1378.6 L1371.2,1379.1 L1374.2,1379.6 L1377.2,1380.1 L1380.2,1380.6 L1383.2,1381.1 L1386.2,1381.6 L1389.2,1382.1 L1392.2,1382.6 L1395.2,1383.1 L1398.2,1383.6 L1401.2,1384.2 L1404.2,1384.7 L1407.2,1385.2 L1410.2,1385.7 L1413.2,1386.2 L1416.2,1386.7 L1419.2,1387.2 L1422.2,1387.7 L1425.2,1388.2 L1428.2,1388.7 L1431.2,1389.2 L1434.2,1389.7 L1437.2,1390.2 L1440.2,1390.6 L1443.2,1391.1 L1446.2,1391.6 L1449.2,1392.0 L1452.2,1392.5 L1455.2,1392.9 L1458.2,1393.3 L1461.2,1393.7 L1464.2,1394.1 L1467.2,1394.5 L1470.2,1394.9 L1473.2,1395.3 L1476.2,1395.6 L1479.2,1395.9 L1482.2,1396.3 L1485.2,1396.6 L1488.2,1396.9 L1491.2,1397.2 L1494.2,1397.4 L1497.2,1397.7 L1500.2,1397.9 L1503.2,1398.1 L1506.2,1398.3 L1509.2,1398.5 L1512.2,1398.6 L1515.2,1398.8 L1518.2,1398.9 L1521.2,1399.0 L1524.2,1399.1 L1527.2,1399.1 L1530.2,1399.1 L1533.2,1399.2 L1536.2,1399.1 L1539.2,1399.1 L1542.2,1399.0 L1545.2,1399.0 L1548.2,1398.8 L1551.2,1398.7 L1554.2,1398.5 L1557.2,1398.3 L1560.2,1398.1 L1563.2,1397.9 L1566.2,1397.6 L1569.2,1397.3 L1572.2,1397.0 L1575.2,1396.6 L1578.2,1396.2 L1581.2,1395.8 L1584.2,1395.3 L1587.2,1394.8 L1590.2,1394.3 L1593.2,1393.8 L1596.2,1393.2 L1599.2,1392.5 L1602.2,1391.9 L1605.2,1391.2 L1608.2,1390.5 L1611.2,1389.7 L1614.2,1388.9 L1617.2,1388.0 L1620.2,1387.2 L1623.2,1386.3 L1626.2,1385.3 L1629.2,1384.3 L1632.2,1383.3 L1635.2,1382.2 L1638.2,1381.1 L1641.2,1379.9 L1644.2,1378.7 L1647.2,1377.5 L1650.2,1376.2 L1653.2,1374.9 L1656.2,1373.5 L1659.2,1372.1 L1662.2,1370.6 L1665.2,1369.1 L1668.2,1367.5 L1671.2,1365.9 L1674.2,1364.3 L1677.2,1362.6 L1680.2,1360.8 L1683.2,1359.1 L1686.2,1357.2 L1689.2,1355.3 L1692.2,1353.4 L1695.2,1351.4 L1698.2,1349.4 L1701.2,1347.3 L1704.2,1345.2 L1707.2,1343.0 L1710.2,1340.8 L1713.2,1338.6 L1716.2,1336.3 L1719.2,1334.0 L1722.2,1331.6 L1725.2,1329.3 L1728.2,1326.8 L1731.2,1324.4 L1734.2,1321.9 L1737.2,1319.3 L1740.2,1316.8 L1743.2,1314.2 L1746.2,1311.6 L1749.2,1308.9 L1752.2,1306.2 L1755.2,1303.5 L1758.2,1300.8 L1761.2,1298.0 L1764.2,1295.2 L1767.2,1292.4 L1770.2,1289.6 L1773.2,1286.7 L1776.2,1283.8 L1779.2,1280.9 L1782.2,1278.0 L1785.2,1275.0 L1788.2,1272.1 L1791.2,1269.1 L1794.2,1266.1 L1797.2,1263.1 L1800.2,1260.0 L1803.2,1257.0 L1806.2,1253.9 L1809.2,1250.9 L1812.2,1247.8 L1815.2,1244.7 L1818.2,1241.6 L1821.2,1238.5 L1824.2,1235.4 L1827.2,1232.3 L1830.2,1229.1 L1833.2,1226.0 L1836.2,1222.9 L1839.2,1219.7 L1842.2,1216.6 L1845.2,1213.4 L1848.2,1210.3 L1851.2,1207.1 L1854.2,1204.0 L1857.2,1200.8 L1860.2,1197.7 L1863.2,1194.5 L1866.2,1191.4 L1869.2,1188.3 L1872.2,1185.2 L1875.2,1182.0 L1878.2,1178.9 L1881.2,1175.8 L1884.2,1172.7 L1887.2,1169.7 L1890.2,1166.6 L1893.2,1163.5 L1896.2,1160.5 L1899.2,1157.5 L1902.2,1154.4 L1905.2,1151.4 L1908.2,1148.5 L1911.2,1145.5 L1914.2,1142.5 L1917.2,1139.6 L1920.2,1136.7 L1923.2,1133.8 L1926.2,1131.0 L1929.2,1128.1 L1932.2,1125.3 L1935.2,1122.5 L1938.2,1119.7 L1941.2,1117.0 L1944.2,1114.3 L1947.2,1111.6 L1950.2,1108.9 L1953.2,1106.3 L1956.2,1103.7 L1959.2,1101.1 L1962.2,1098.6 L1965.2,1096.1 L1968.2,1093.7 L1971.2,1091.2 L1974.2,1088.8 L1977.2,1086.5 L1980.2,1084.2 L1983.2,1081.9 L1986.2,1079.6 L1989.2,1077.4 L1992.2,1075.3 L1995.2,1073.1 L1998.2,1071.1 L2001.2,1069.0 L2004.2,1067.1 L2007.2,1065.1 L2010.2,1063.2 L2013.2,1061.4 L2016.2,1059.6 L2019.2,1057.8 L2022.2,1056.1 L2025.2,1054.5 L2028.2,1052.9 L2031.2,1051.3 L2034.2,1049.9 L2037.2,1048.4 L2040.2,1047.0 L2043.2,1045.7 L2046.2,1044.4 L2049.2,1043.2 L2052.2,1042.0 L2055.2,1040.8 L2058.2,1039.7 L2061.2,1038.7 L2064.2,1037.7 L2067.2,1036.7 L2070.2,1035.8 L2073.2,1034.9 L2076.2,1034.1 L2079.2,1033.3 L2082.2,1032.6 L2085.2,1031.9 L2088.2,1031.2 L2091.2,1030.6 L2094.2,1030.0 L2097.2,1029.5 L2100.2,1029.0 L2103.2,1028.5 L2106.2,1028.1 L2109.2,1027.7 L2112.2,1027.3 L2115.2,1027.0 L2118.2,1026.7 L2121.2,1026.4 L2124.2,1026.2 L2127.2,1026.0 L2130.2,1025.9 L2133.2,1025.7 L2136.2,1025.6 L2139.2,1025.5 L2142.2,1025.5 L2145.2,1025.5 L2148.2,1025.5 L2151.2,1025.5 L2154.2,1025.6 L2157.2,1025.7 L2160.2,1025.8 L2163.2,1025.9 L2166.2,1026.1 L2169.2,1026.3 L2172.2,1026.5 L2175.2,1026.7 L2178.2,1026.9 L2181.2,1027.2 L2184.2,1027.5 L2187.2,1027.8 L2190.2,1028.1 L2193.2,1028.4 L2196.2,1028.8 L2199.2,1029.2 L2202.2,1029.5 L2205.2,1029.9 L2208.2,1030.3 L2211.2,1030.8 L2214.2,1031.2 L2217.2,1031.7 L2220.2,1032.1 L2223.2,1032.6 L2226.2,1033.1 L2229.2,1033.6 L2232.2,1034.1 L2235.2,1034.6 L2238.2,1035.1 L2241.2,1035.6 L2244.2,1036.1 L2247.2,1036.7 L2250.2,1037.2 L2253.2,1037.7 L2256.2,1038.3 L2259.2,1038.8 L2262.2,1039.4 L2265.2,1039.9 L2268.2,1040.5 L2271.2,1041.0 L2274.2,1041.6 L2277.2,1042.1 L2280.2,1042.6 L2283.2,1043.2 L2286.2,1043.7 L2289.2,1044.2 L2292.2,1044.8 L2295.2,1045.3 L2298.2,1045.8 L2301.2,1046.3 L2304.2,1046.8 L2307.2,1047.3 L2310.2,1047.8 L2313.2,1048.3 L2316.2,1048.7 L2319.2,1049.2 L2322.2,1049.6 L2325.2,1050.1 L2328.2,1050.5 L2331.2,1050.9 L2334.2,1051.3 L2337.2,1051.6 L2340.2,1052.0 L2343.2,1052.4 L2346.2,1052.7 L2349.2,1053.0 L2352.2,1053.3 L2355.2,1053.5 L2358.2,1053.8 L2361.2,1054.0 L2364.2,1054.2 L2367.2,1054.4 L2370.2,1054.6 L2373.2,1054.7 L2376.2,1054.9 L2379.2,1055.0 L2382.2,1055.0 L2385.2,1055.1 L2388.2,1055.1 L2391.2,1055.1 L2394.2,1055.1 L2397.2,1055.0 L2400.2,1055.0 L2403.2,1054.9 L2406.2,1054.7 L2409.2,1054.6 L2412.2,1054.4 L2415.2,1054.3 L2418.2,1054.1 L2421.2,1053.8 L2424.2,1053.6 L2427.2,1053.3 L2430.2,1053.0 L2433.2,1052.7 L2436.2,1052.4 L2439.2,1052.0 L2442.2,1051.7 L2445.2,1051.3 L2448.2,1050.9 L2451.2,1050.4 L2454.2,1050.0 L2457.2,1049.5 L2460.2,1049.0 L2463.2,1048.5 L2466.2,1048.0 L2469.2,1047.4 L2472.2,1046.9 L2475.2,1046.3 L2478.2,1045.7 L2481.2,1045.1 L2484.2,1044.4 L2487.2,1043.8 L2490.2,1043.1 L2493.2,1042.4 L2496.2,1041.8 L2499.2,1041.0 L2502.2,1040.3 L2505.2,1039.6 L2508.2,1038.8 L2511.2,1038.0 L2514.2,1037.2 L2517.2,1036.4 L2520.2,1035.6 L2523.2,1034.8 L2526.2,1033.9 L2529.2,1033.0 L2532.2,1032.2 L2535.2,1031.3 L2538.2,1030.4 L2541.2,1029.4 L2544.2,1028.5 L2547.2,1027.6 L2550.2,1026.6 L2553.2,1025.6 L2556.2,1024.7 L2559.2,1023.7 L2562.2,1022.7 L2565.2,1021.6 L2568.2,1020.6 L2571.2,1019.6 L2574.2,1018.5 L2577.2,1017.5 L2580.2,1016.4 L2583.2,1015.3 L2586.2,1014.2 L2589.2,1013.1 L2592.2,1012.0 L2595.2,1010.9 L2598.2,1009.8 L2601.2,1008.6 L2604.2,1007.5 L2607.2,1006.3 L2610.2,1005.2 L2613.2,1004.0 L2616.2,1002.8 L2619.2,1001.6 L2622.2,1000.4 L2625.2,999.2 L2628.2,998.0 L2631.2,996.8 L2634.2,995.6 L2637.2,994.3 L2640.2,993.1 L2643.2,991.9 L2646.2,990.6 L2649.2,989.4 L2652.2,988.1 L2655.2,986.8 L2658.2,985.6 L2661.2,984.3 L2664.2,983.0 L2667.2,981.7 L2670.2,980.4 L2673.2,979.2 L2676.2,977.9 L2679.2,976.6 L2682.2,975.3 L2685.2,974.0 L2688.2,972.6 L2691.2,971.3 L2694.2,970.0 L2697.2,968.7 L2700.2,967.4 L2703.2,966.1 L2706.2,964.8 L2709.2,963.4 L2712.2,962.1 L2715.2,960.8 L2718.2,959.5 L2721.2,958.1 L2724.2,956.8 L2725.7,956.2" fill="none" stroke="#111113" stroke-width="2.2" stroke-linejoin="round"/>
<line x1="636.2" x2="2725.7" y1="1374" y2="1374" stroke="#16a34a" stroke-width="2.2"/>
</svg>
<div class="t" style="left:784.5px;width:400px;text-align:center;top:1397.6px;font-size:26px;line-height:26px;color:#71717a;">25 de nov.</div>
<div class="t" style="left:1132.7px;width:400px;text-align:center;top:1397.6px;font-size:26px;line-height:26px;color:#71717a;">26 de nov.</div>
<div class="t" style="left:1481.0px;width:400px;text-align:center;top:1397.6px;font-size:26px;line-height:26px;color:#71717a;">27 de nov.</div>
<div class="t" style="left:1829.2px;width:400px;text-align:center;top:1397.6px;font-size:26px;line-height:26px;color:#71717a;">28 de nov.</div>
<div class="t" style="left:2177.4px;width:400px;text-align:center;top:1397.6px;font-size:26px;line-height:26px;color:#71717a;">29 de nov.</div>
<div class="t" style="left:2336.4px;width:400px;text-align:right;top:1397.6px;font-size:26px;line-height:26px;color:#71717a;">30 de nov.</div>
<div class="box" style="left:2850px;top:0;width:30px;height:1498px;background:#fafafa;border-left:2px solid #e8e8e8;border-right:2px solid #efefef;"></div>
<div class="box" style="left:2858px;top:8px;width:16px;height:639px;background:#c1c1c1;border-radius:8px;"></div>
<div class="box" style="left:0;top:0;width:2880px;height:2px;background:#434544;"></div>
</div>
<svg style="position:absolute;left:0;top:0;width:2880px;height:1498px;pointer-events:none" viewBox="0 0 2880 1498"><path d="M0,1439.0 L0.00,1439.00 L0.03,1447.42 L0.11,1451.81 L0.26,1455.37 L0.46,1458.46 L0.71,1461.25 L1.03,1463.80 L1.40,1466.17 L1.83,1468.39 L2.31,1470.48 L2.86,1472.45 L3.46,1474.31 L4.12,1476.08 L4.84,1477.76 L5.62,1479.36 L6.46,1480.88 L7.36,1482.32 L8.32,1483.70 L9.34,1485.00 L10.42,1486.23 L11.57,1487.40 L12.78,1488.50 L14.06,1489.54 L15.41,1490.52 L16.83,1491.43 L18.32,1492.28 L19.89,1493.07 L21.55,1493.81 L23.29,1494.48 L25.12,1495.09 L27.06,1495.65 L29.11,1496.14 L31.29,1496.58 L33.62,1496.95 L36.13,1497.27 L38.87,1497.54 L41.91,1497.74 L45.41,1497.88 L49.72,1497.97 L58.00,1498.00 L0,1498 Z" fill="#000"/><path d="M2880,1439.0 L2880.00,1439.00 L2879.97,1447.42 L2879.89,1451.81 L2879.74,1455.37 L2879.54,1458.46 L2879.29,1461.25 L2878.97,1463.80 L2878.60,1466.17 L2878.17,1468.39 L2877.69,1470.48 L2877.14,1472.45 L2876.54,1474.31 L2875.88,1476.08 L2875.16,1477.76 L2874.38,1479.36 L2873.54,1480.88 L2872.64,1482.32 L2871.68,1483.70 L2870.66,1485.00 L2869.58,1486.23 L2868.43,1487.40 L2867.22,1488.50 L2865.94,1489.54 L2864.59,1490.52 L2863.17,1491.43 L2861.68,1492.28 L2860.11,1493.07 L2858.45,1493.81 L2856.71,1494.48 L2854.88,1495.09 L2852.94,1495.65 L2850.89,1496.14 L2848.71,1496.58 L2846.38,1496.95 L2843.87,1497.27 L2841.13,1497.54 L2838.09,1497.74 L2834.59,1497.88 L2830.28,1497.97 L2822.00,1498.00 L2880,1498 Z" fill="#000"/><path d="M0.00,1439.00 L0.03,1447.42 L0.11,1451.81 L0.26,1455.37 L0.46,1458.46 L0.71,1461.25 L1.03,1463.80 L1.40,1466.17 L1.83,1468.39 L2.31,1470.48 L2.86,1472.45 L3.46,1474.31 L4.12,1476.08 L4.84,1477.76 L5.62,1479.36 L6.46,1480.88 L7.36,1482.32 L8.32,1483.70 L9.34,1485.00 L10.42,1486.23 L11.57,1487.40 L12.78,1488.50 L14.06,1489.54 L15.41,1490.52 L16.83,1491.43 L18.32,1492.28 L19.89,1493.07 L21.55,1493.81 L23.29,1494.48 L25.12,1495.09 L27.06,1495.65 L29.11,1496.14 L31.29,1496.58 L33.62,1496.95 L36.13,1497.27 L38.87,1497.54 L41.91,1497.74 L45.41,1497.88 L49.72,1497.97 L58.00,1498.00" fill="none" stroke="#38383a" stroke-width="2.5"/><path d="M2880.00,1439.00 L2879.97,1447.42 L2879.89,1451.81 L2879.74,1455.37 L2879.54,1458.46 L2879.29,1461.25 L2878.97,1463.80 L2878.60,1466.17 L2878.17,1468.39 L2877.69,1470.48 L2877.14,1472.45 L2876.54,1474.31 L2875.88,1476.08 L2875.16,1477.76 L2874.38,1479.36 L2873.54,1480.88 L2872.64,1482.32 L2871.68,1483.70 L2870.66,1485.00 L2869.58,1486.23 L2868.43,1487.40 L2867.22,1488.50 L2865.94,1489.54 L2864.59,1490.52 L2863.17,1491.43 L2861.68,1492.28 L2860.11,1493.07 L2858.45,1493.81 L2856.71,1494.48 L2854.88,1495.09 L2852.94,1495.65 L2850.89,1496.14 L2848.71,1496.58 L2846.38,1496.95 L2843.87,1497.27 L2841.13,1497.54 L2838.09,1497.74 L2834.59,1497.88 L2830.28,1497.97 L2822.00,1498.00" fill="none" stroke="#38383a" stroke-width="2.5"/></svg>
</body></html>
